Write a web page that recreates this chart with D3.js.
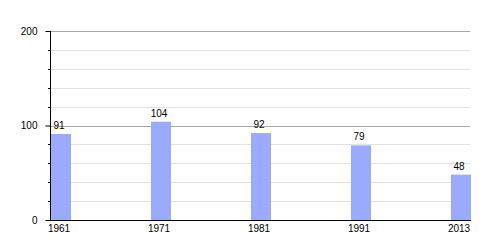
<!DOCTYPE html>
<html>
<head>
<style>
  body { margin: 0; background: #fff; }
  svg text { font-family: "Liberation Sans", Arial, sans-serif; font-size: 10px; fill: #000; }
</style>
</head>
<body>
<div id="chart"></div>
<script src="https://d3js.org/d3.v7.min.js"></script>
<script>
  var years = ["1961", "1971", "1981", "1991", "2013"];
  var population = [91, 104, 92, 79, 48];
  var majorTicks = [0, 100, 200];
  var minorTicks = [20, 40, 60, 80, 120, 140, 160, 180];

  var width = 500, height = 250;
  var plotLeft = 50, plotRight = 470, plotTop = 31, plotBottom = 220;

  var svg = d3.select("#chart").append("svg")
      .attr("width", width)
      .attr("height", height);

  var x = d3.scaleBand()
      .domain(years)
      .range([plotLeft + 1, plotRight + 1])
      .paddingInner(0.8)
      .paddingOuter(0);

  var y = d3.scaleLinear()
      .domain([0, 200])
      .range([plotBottom, plotTop]);

  // grid lines
  svg.selectAll("line.minor")
      .data(minorTicks)
      .enter().append("line")
      .attr("class", "minor")
      .attr("x1", plotLeft).attr("x2", plotRight)
      .attr("y1", function (d) { return Math.round(y(d)) + 0.5; })
      .attr("y2", function (d) { return Math.round(y(d)) + 0.5; })
      .style("stroke", "#e2e2e2");

  svg.selectAll("line.major")
      .data([100, 200])
      .enter().append("line")
      .attr("class", "major")
      .attr("x1", plotLeft).attr("x2", plotRight)
      .attr("y1", function (d) { return Math.round(y(d)) + 0.5; })
      .attr("y2", function (d) { return Math.round(y(d)) + 0.5; })
      .style("stroke", "#a8a8a8");

  // bars
  svg.selectAll("rect")
      .data(population)
      .enter().append("rect")
      .attr("x", function (d, i) { return x(years[i]); })
      .attr("y", function (d) { return y(d); })
      .attr("width", x.bandwidth())
      .attr("height", function (d) { return plotBottom - y(d); })
      .style("fill", "#99aaff");

  // value labels
  svg.selectAll("text.val")
      .data(population)
      .enter().append("text")
      .attr("class", "val")
      .attr("x", function (d, i) { return x(years[i]) + x.bandwidth() / 2 - 2; })
      .attr("y", function (d) { return y(d) - 5; })
      .attr("text-anchor", "middle")
      .text(function (d) { return d; });

  // y axis
  var yAxis = d3.axisLeft(y)
      .tickValues(majorTicks)
      .tickSize(5)
      .tickPadding(8)
      .tickFormat(d3.format("d"));

  var gy = svg.append("g")
      .attr("transform", "translate(" + (plotLeft + 0.5) + ",0)")
      .call(yAxis);
  gy.select(".domain").remove();
  gy.selectAll(".tick line").style("stroke", "#000");
  gy.selectAll(".tick text").style("font-size", "10px").style("font-family", "Liberation Sans, Arial, sans-serif");

  svg.selectAll("line.minortick")
      .data(minorTicks)
      .enter().append("line")
      .attr("class", "minortick")
      .attr("x1", plotLeft - 2).attr("x2", plotLeft)
      .attr("y1", function (d) { return Math.round(y(d)) + 0.5; })
      .attr("y2", function (d) { return Math.round(y(d)) + 0.5; })
      .style("stroke", "#000");

  svg.append("line")
      .attr("x1", plotLeft + 0.5).attr("x2", plotLeft + 0.5)
      .attr("y1", plotTop).attr("y2", plotBottom + 1)
      .style("stroke", "#000");

  // x axis
  svg.append("line")
      .attr("x1", plotLeft).attr("x2", plotRight + 1)
      .attr("y1", plotBottom + 0.5).attr("y2", plotBottom + 0.5)
      .style("stroke", "#000");

  var xAxis = d3.axisBottom(x).tickSize(0).tickPadding(4);
  var gx = svg.append("g")
      .attr("transform", "translate(-2," + (plotBottom + 0.5) + ")")
      .call(xAxis);
  gx.select(".domain").remove();
  gx.selectAll(".tick text").style("font-size", "10px").style("font-family", "Liberation Sans, Arial, sans-serif");
</script>
</body>
</html>
